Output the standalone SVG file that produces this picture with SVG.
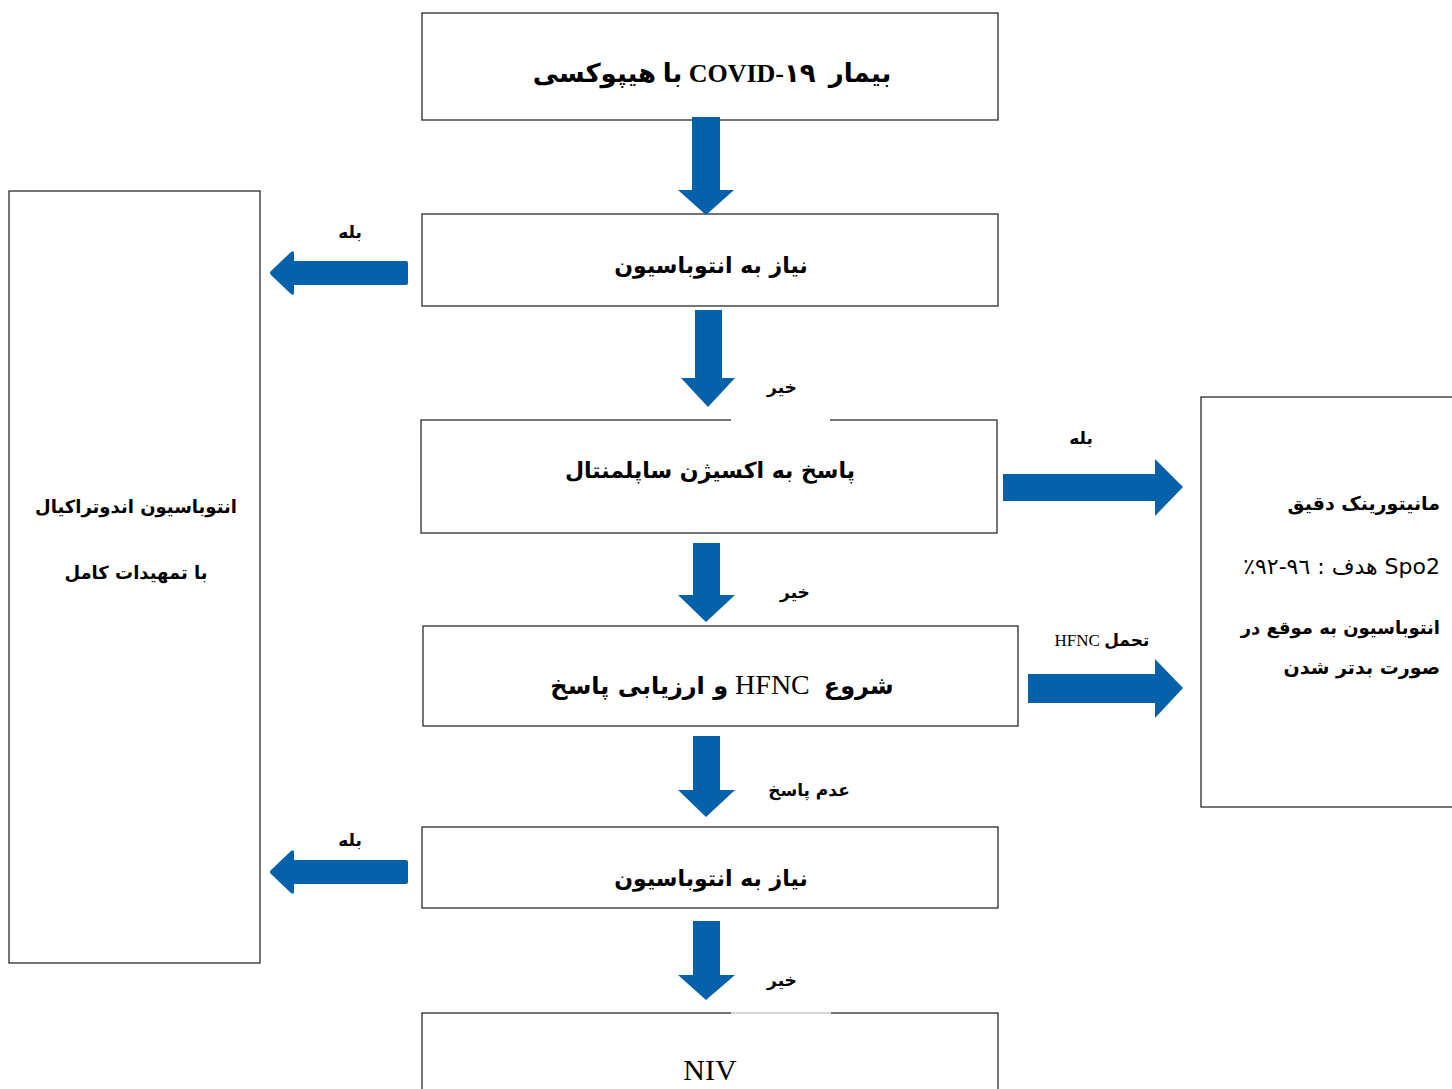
<svg xmlns="http://www.w3.org/2000/svg" width="1452" height="1089" viewBox="0 0 1452 1089">
<style>
.box{fill:#fff;stroke:#2b2b2b;stroke-width:1.3}
.arr{fill:#0561A9}
.t{font-family:"DejaVu Sans","Noto Sans",sans-serif;font-weight:bold;font-size:22px;fill:#000;direction:rtl}
.ts{font-family:"Liberation Serif","DejaVu Sans",serif;fill:#000;direction:rtl}
.lbl{font-family:"DejaVu Sans",sans-serif;font-weight:bold;font-size:17px;fill:#000;direction:rtl}
.side{font-family:"DejaVu Sans",sans-serif;font-weight:bold;font-size:18px;fill:#000;direction:rtl}
</style>
<rect width="1452" height="1089" fill="#fff"/>
<g id="n1">
<rect class="box" x="422" y="13" width="576" height="107"/>
<text class="ts" x="712" y="82" text-anchor="middle" font-size="26" font-weight="bold">بیمار&#160; COVID-۱۹ با هیپوکسی</text>
</g>
<g id="n2">
<rect class="box" x="422" y="214" width="576" height="92"/>
<text class="t" x="711" y="273" text-anchor="middle">نیاز به انتوباسیون</text>
</g>
<g id="n3">
<rect class="box" x="421" y="420" width="576" height="113"/>
<rect x="731" y="418" width="99" height="4" fill="#fff"/>
<text class="t" x="710" y="478" text-anchor="middle">پاسخ به اکسیژن ساپلمنتال</text>
</g>
<g id="n4">
<rect class="box" x="423" y="626" width="595" height="100"/>
<text class="ts" x="722" y="694" text-anchor="middle" font-size="28"><tspan font-weight="bold" font-family="DejaVu Sans" font-size="24">شروع</tspan>&#160; HFNC <tspan font-weight="bold" font-family="DejaVu Sans" font-size="24">و ارزیابی پاسخ</tspan></text>
</g>
<g id="n5">
<rect class="box" x="422" y="827" width="576" height="81"/>
<text class="t" x="711" y="886" text-anchor="middle">نیاز به انتوباسیون</text>
</g>
<g id="n6">
<rect class="box" x="422" y="1013" width="576" height="90"/>
<rect x="731" y="1011" width="100" height="4" fill="#fff"/>
<line x1="731" y1="1013" x2="831" y2="1013" stroke="#b0b0b0" stroke-width="1"/>
<text class="ts" x="710" y="1080" text-anchor="middle" font-size="30">NIV</text>
</g>
<g id="n7">
<rect class="box" x="9" y="191" width="251" height="772"/>
<text class="side" x="136" y="513" text-anchor="middle">انتوباسیون اندوتراکیال</text>
<text class="side" x="136" y="579" text-anchor="middle">با تمهیدات کامل</text>
</g>
<g id="n8">
<rect class="box" x="1201" y="397" width="260" height="410"/>
<text class="side" x="1440" y="510" text-anchor="start" style="font-size:19px">مانیتورینک دقیق</text>
<text class="side" x="1440" y="574" text-anchor="start" style="font-weight:normal;font-size:22px">Spo2 هدف : ٩٦-٩٢٪</text>
<text class="side" x="1440" y="634" text-anchor="start">انتوباسیون به موقع در</text>
<text class="side" x="1440" y="674" text-anchor="start" style="font-size:19px">صورت بدتر شدن</text>
</g>
<g id="connectors">
<polygon class="arr" points="692,117 720,117 720,190 734,190 706,215 678,190 692,190"/>
<polygon class="arr" points="695,310 722,310 722,378 735,378 708,407 681,378 695,378"/>
<polygon class="arr" points="693,543 720,543 720,595 735,595 706,622 678,595 693,595"/>
<polygon class="arr" points="693,736 720,736 720,790 735,790 706,817 678,790 693,790"/>
<polygon class="arr" points="693,921 720,921 720,975 735,975 706,1000 678,975 693,975"/>
<path class="arr" d="M408,263 Q408,261 406,261 L294,261 L294,253 Q294,250 291,252 L271,271 Q269,273 271,275 L291,294 Q294,296 294,293 L294,285 L406,285 Q408,285 408,283 Z"/>
<path class="arr" d="M408,862 Q408,860 406,860 L294,860 L294,852 Q294,849 291,851 L271,870 Q269,872 271,874 L291,893 Q294,895 294,892 L294,884 L406,884 Q408,884 408,882 Z"/>
<polygon class="arr" points="1003,474 1155,474 1155,459 1183,487 1155,516 1155,501 1003,501"/>
<polygon class="arr" points="1028,674 1155,674 1155,659 1183,688 1155,718 1155,703 1028,703"/>
</g>
<g id="labels">
<text class="lbl" x="350" y="238" text-anchor="middle">بله</text>
<text class="lbl" x="350" y="846" text-anchor="middle">بله</text>
<text class="lbl" x="1081" y="444" text-anchor="middle">بله</text>
<text class="lbl" x="782" y="393" text-anchor="middle">خیر</text>
<text class="lbl" x="795" y="598" text-anchor="middle">خیر</text>
<text class="lbl" x="782" y="986" text-anchor="middle">خیر</text>
<text class="lbl" x="809" y="796" text-anchor="middle">عدم پاسخ</text>
<text class="ts" x="1102" y="646" text-anchor="middle" font-size="17"><tspan font-family="DejaVu Sans" font-weight="bold">تحمل</tspan> HFNC</text>
</g>
</svg>
